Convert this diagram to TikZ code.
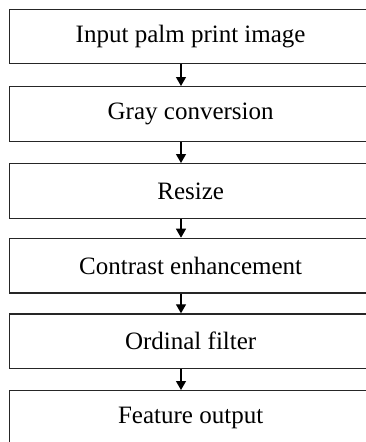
\documentclass[tikz,border=0pt]{standalone}
\usepackage{fontspec}
\setmainfont{Liberation Serif}
\usetikzlibrary{arrows.meta}
\begin{document}
\begin{tikzpicture}[x=1pt,y=1pt,
  stepbox/.style={draw=black!85, line width=1.3pt, minimum width=362pt, minimum height=54.5pt,
    anchor=north west, inner sep=0pt, font=\fontsize{25}{30}\selectfont, text=black},
  arr/.style={line width=1.2pt, -{Triangle[length=9pt,width=10pt]}}]
\useasboundingbox (0,0) rectangle (366,-442);
\clip (0,0) rectangle (366,-442);
\node[stepbox] (b1) at (9,-8.5) {Input palm print image};
\node[stepbox] (b2) at (9,-86) {Gray conversion};
\node[stepbox] (b3) at (9,-163) {Resize};
\node[stepbox] (b4) at (9,-237.7) {Contrast enhancement};
\node[stepbox] (b5) at (9,-313.3) {Ordinal filter};
\node[stepbox] (b6) at (9,-390) {Feature output};
\coordinate (ax) at (181,0);
\draw[arr] (b1.south -| ax) -- (b2.north -| ax);
\draw[arr] (b2.south -| ax) -- (b3.north -| ax);
\draw[arr] (b3.south -| ax) -- (b4.north -| ax);
\draw[arr] (b4.south -| ax) -- (b5.north -| ax);
\draw[arr] (b5.south -| ax) -- (b6.north -| ax);
\end{tikzpicture}
\end{document}
